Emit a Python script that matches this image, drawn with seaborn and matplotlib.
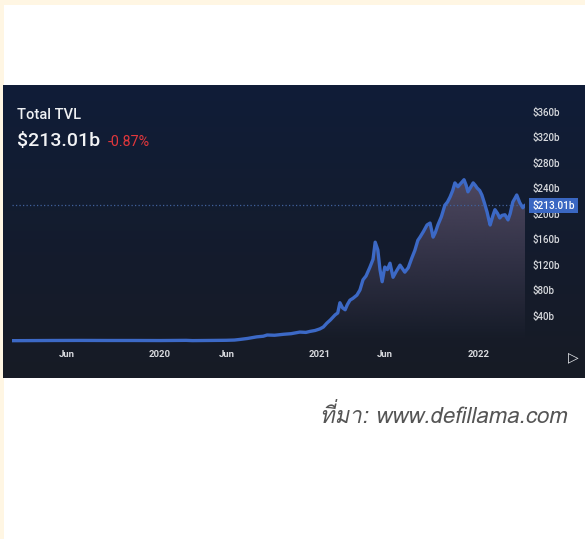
import numpy as np
import pandas as pd
import matplotlib
matplotlib.use("Agg")
import matplotlib.pyplot as plt
import matplotlib.dates as mdates
import seaborn as sns
from matplotlib.patches import Rectangle
from matplotlib import font_manager as fm
from matplotlib.ft2font import FT2Font
from matplotlib.colors import to_rgb

# ---------------- data ----------------
dates = [
    "2019-01-26", "2019-03-01", "2019-05-01", "2019-07-01", "2019-09-01", "2019-11-01",
    "2020-01-01", "2020-03-01", "2020-03-15", "2020-05-01", "2020-06-01", "2020-06-20",
    "2020-07-03", "2020-07-20", "2020-08-10", "2020-08-25", "2020-09-03", "2020-09-20",
    "2020-10-10", "2020-10-28", "2020-11-17", "2020-12-01", "2020-12-10", "2020-12-22",
    "2021-01-02", "2021-01-10", "2021-01-18", "2021-01-26", "2021-02-06", "2021-02-12",
    "2021-02-17", "2021-02-23", "2021-03-01", "2021-03-06", "2021-03-12", "2021-03-19",
    "2021-03-28", "2021-04-04", "2021-04-11", "2021-04-18",
    "2021-04-27", "2021-05-04", "2021-05-09", "2021-05-15", "2021-05-20", "2021-05-25",
    "2021-05-31", "2021-06-06", "2021-06-12", "2021-06-19", "2021-06-27", "2021-07-05",
    "2021-07-16", "2021-07-24", "2021-08-01", "2021-08-08", "2021-08-15", "2021-08-20",
    "2021-08-28", "2021-09-05", "2021-09-12", "2021-09-19", "2021-09-24", "2021-09-30",
    "2021-10-08", "2021-10-16", "2021-10-22", "2021-10-28", "2021-11-03", "2021-11-08",
    "2021-11-15", "2021-11-20", "2021-11-24", "2021-11-29", "2021-12-04", "2021-12-08",
    "2021-12-14", "2021-12-20", "2021-12-25", "2021-12-29", "2022-01-04", "2022-01-09",
    "2022-01-15", "2022-01-21", "2022-01-25", "2022-01-28", "2022-02-03", "2022-02-08",
    "2022-02-14", "2022-02-19", "2022-02-24", "2022-03-03", "2022-03-10", "2022-03-15",
    "2022-03-21", "2022-03-26", "2022-03-30", "2022-04-06", "2022-04-13", "2022-04-18",
]
tvl_billions = [
    0.5, 0.6, 0.8, 0.9, 0.8, 0.8,
    0.7, 1.0, 0.6, 0.9, 1.1, 1.5,
    2.5, 4.0, 6.5, 7.5, 9.4, 9.0,
    10.5, 11.5, 14.0, 13.5, 15.0, 16.5,
    19.0, 22.0, 28.0, 33.0, 41.0, 44.0,
    60.0, 52.0, 49.0, 57.0, 64.0, 67.0,
    72.0, 80.0, 96.0, 102.0,
    116.0, 128.0, 155.0, 143.0, 112.0, 93.0,
    116.0, 112.0, 122.0, 100.0, 110.0, 119.0,
    108.0, 115.0, 130.0, 142.0, 158.0, 163.0,
    172.0, 182.0, 185.0, 163.0, 170.0, 182.0,
    195.0, 213.0, 218.0, 226.0, 236.0, 248.0,
    242.0, 246.0, 249.0, 253.0, 244.0, 234.0,
    241.0, 248.0, 244.0, 240.0, 236.0, 229.0,
    216.0, 202.0, 190.0, 182.0, 196.0, 206.0,
    200.0, 193.0, 197.0, 198.0, 190.0, 200.0,
    218.0, 224.0, 229.0, 217.0, 209.0, 213.01,
]
xtick_dates = ["2019-06-01", "2020-01-01", "2020-06-01", "2021-01-01", "2021-06-01", "2022-01-01"]
xtick_labels = ["Jun", "2020", "Jun", "2021", "Jun", "2022"]
ytick_values = [40, 80, 120, 160, 200, 240, 280, 320, 360]
ytick_labels = ["$40b", "$80b", "$120b", "$160b", "$200b", "$240b", "$280b", "$320b", "$360b"]
current_label = "$213.01b"
change_label = "-0.87%"
current_value = 213.01

df = pd.DataFrame({"date": pd.to_datetime(dates), "tvl": tvl_billions})

# ---------------- fonts ----------------
sns.set_theme(style="dark")
thai_font = None
for f in fm.fontManager.ttflist:
    try:
        if 0x0E17 in FT2Font(f.fname).get_charmap():
            thai_font = f.name
            break
    except Exception:
        pass
plt.rcParams["font.family"] = ["Roboto", "DejaVu Sans"]

W, H = 585, 539
fig = plt.figure(figsize=(W / 100, H / 100), dpi=100, facecolor="#FFF6E3")

def fx(px):
    return px / W

def fy(py):
    return 1 - py / H

# white inner page
fig.patches.append(Rectangle((fx(4), 0), 1, fy(5), transform=fig.transFigure,
                             facecolor="white", edgecolor="none", zorder=-10))

# dark panel with gradient
bg = fig.add_axes([fx(3), fy(378), fx(582), (378 - 85) / H], zorder=1)
bg.axis("off")
top_c = np.array(to_rgb("#101d38"))
bot_c = np.array(to_rgb("#171b25"))
t = np.linspace(0, 1, 200)[:, None]
grad = top_c[None, :] * (1 - t) + bot_c[None, :] * t
bg.imshow(grad[:, None, :].repeat(2, axis=1), aspect="auto", extent=[0, 1, 0, 1])
bg.set_xlim(0, 1)
bg.set_ylim(0, 1)

# main plot axes
ax_top, ax_bot = 95, 345
ax = fig.add_axes([fx(12), fy(ax_bot), fx(525 - 12), (ax_bot - ax_top) / H], zorder=2)
ax.patch.set_alpha(0)
per_px = 40 / 25.5
x0, x1 = pd.Timestamp("2019-01-26"), pd.Timestamp("2022-04-18")

# gradient fill under the curve
poly = ax.fill_between(df["date"], df["tvl"], 0, color="none", lw=0)
fill_c = np.array(to_rgb("#5a5068"))
n = 256
img = np.zeros((n, 2, 4))
img[..., :3] = fill_c
img[..., 3] = np.linspace(0.0, 0.85, n)[:, None]
im = ax.imshow(img, aspect="auto", origin="lower",
               extent=[mdates.date2num(x0), mdates.date2num(x1), 0, 255], zorder=1)
im.set_clip_path(poly.get_paths()[0], transform=ax.transData)

sns.lineplot(data=df, x="date", y="tvl", ax=ax, color="#3c69c6", lw=2.4, zorder=3)
ax.axhline(current_value, color="#41619c", lw=0.9, ls=(0, (1, 1.8)), zorder=2)
ax.set_xlim(x0, x1)
ax.set_ylim(-(ax_bot - 341) * per_px, (341 - ax_top) * per_px)

for s in ax.spines.values():
    s.set_visible(False)
ax.grid(False)
ax.set_xlabel("")
ax.set_ylabel("")
ax.set_xticks(pd.to_datetime(xtick_dates))
ax.set_xticklabels(xtick_labels)
for lab in ax.get_xticklabels():
    lab.set_fontweight("bold")
ax.tick_params(axis="x", length=0, pad=3.5, labelsize=6.8, colors="#d8dade")
ax.yaxis.tick_right()
ax.set_yticks(ytick_values)
ax.set_yticklabels(ytick_labels)
for lab in ax.get_yticklabels():
    lab.set_fontweight("medium")
ax.tick_params(axis="y", length=0, pad=5.5, labelsize=7, colors="#d8dade")

# header texts
fig.text(fx(17), fy(115), "Total TVL", fontsize=10.5, fontweight="medium", color="#eef0f3",
         va="center", ha="left", zorder=5)
fig.text(fx(17), fy(146), current_label, fontsize=14, fontweight="medium", color="#f2f3f5",
         va="baseline", ha="left", zorder=5)
fig.text(fx(108), fy(146), change_label, fontsize=10.3, color="#e2373c", va="baseline",
         ha="left", zorder=5)

# price tag on right axis
fig.text(fx(553.5), fy(205.5), current_label, fontsize=7.2, fontweight="medium", color="white",
         ha="center", va="center",
         bbox=dict(boxstyle="square,pad=0.28", facecolor="#3a67c2", edgecolor="none"), zorder=10)

# play icon
fig.text(fx(573), fy(357), "\u25B7", fontsize=10, color="#e6e8ec", ha="center", va="center",
         family="DejaVu Sans", zorder=5)

# caption
cap_family = [thai_font, "DejaVu Sans"] if thai_font else ["DejaVu Sans"]
fig.text(fx(567), fy(416), "ที่มา: www.defillama.com", fontsize=16, style="italic",
         fontweight="light", color="#555555", ha="right", va="center", family=cap_family)

fig.savefig("out.png", dpi=100, facecolor=fig.get_facecolor())
